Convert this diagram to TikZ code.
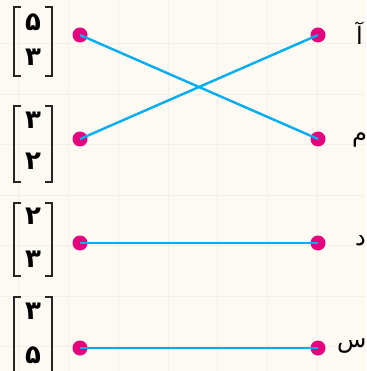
\documentclass[tikz,border=0pt]{standalone}
\usepackage{fontspec}
\TeXXeTstate=1
\newfontfamily\arabicfont[Script=Arabic]{DejaVu Sans}
\definecolor{bgcol}{HTML}{FDF9F3}
\definecolor{gridcol}{HTML}{F3EFEB}
\definecolor{dotcol}{HTML}{E6007E}
\definecolor{linecol}{HTML}{00AEEF}
\tikzset{
  dotnode/.style={circle,fill=dotcol,inner sep=0pt,minimum size=15pt},
  conn/.style={linecol,line width=2.4pt},
  brk/.style={line width=1.3pt,black!85},
  digit/.style={font=\arabicfont\bfseries\fontsize{26}{26}\selectfont,inner sep=0pt},
  letter/.style={font=\arabicfont\fontsize{24}{24}\selectfont,inner sep=0pt}
}
\begin{document}
\begin{tikzpicture}[x=1pt,y=-1pt]
\fill[bgcol] (0,0) rectangle (366,371);
\useasboundingbox (0,0) rectangle (366,371);
\foreach \gx in {18,68,118,168,217,267,317}
  \draw[gridcol,line width=1pt] (\gx,0) -- (\gx,371);
\foreach \gy in {44,95,145,195,245,296,346}
  \draw[gridcol,line width=1pt] (0,\gy) -- (366,\gy);
% brackets
\foreach \t/\b in {7/76,106/182,203/276,297/380}{
  \draw[brk] (21,\t) -- (14,\t) -- (14,\b) -- (21,\b);
  \draw[brk] (45,\t) -- (52,\t) -- (52,\b) -- (45,\b);
}
% digits
\node[digit] (d1a) at (33,22) {\beginR ۵\endR};
\node[digit] (d1b) at (33,57) {\beginR ۳\endR};
\node[digit] (d2a) at (33,120) {\beginR ۳\endR};
\node[digit] (d2b) at (33,161) {\beginR ۲\endR};
\node[digit] (d3a) at (33,216) {\beginR ۲\endR};
\node[digit] (d3b) at (33,259) {\beginR ۳\endR};
\node[digit] (d4a) at (33,311) {\beginR ۳\endR};
\node[digit] (d4b) at (33,355) {\beginR ۵\endR};
% letters
\node[letter,anchor=west] (la) at (356,33) {\beginR آ\endR};
\node[letter,anchor=west] (lm) at (352,140) {\beginR م\endR};
\node[letter,anchor=west] (ld) at (355,241) {\beginR د\endR};
\node[letter,anchor=west] (ls) at (337,346) {\beginR س\endR};
% dots
\node[dotnode] (L1) at (80,35) {};
\node[dotnode] (L2) at (80,139) {};
\node[dotnode] (L3) at (80,243) {};
\node[dotnode] (L4) at (80,348) {};
\node[dotnode] (R1) at (318,35) {};
\node[dotnode] (R2) at (318,139) {};
\node[dotnode] (R3) at (318,243) {};
\node[dotnode] (R4) at (318,348) {};
\draw[conn] (L1.center) -- (R2.center);
\draw[conn] (L2.center) -- (R1.center);
\draw[conn] (L3.center) -- (R3.center);
\draw[conn] (L4.center) -- (R4.center);
\end{tikzpicture}
\end{document}
